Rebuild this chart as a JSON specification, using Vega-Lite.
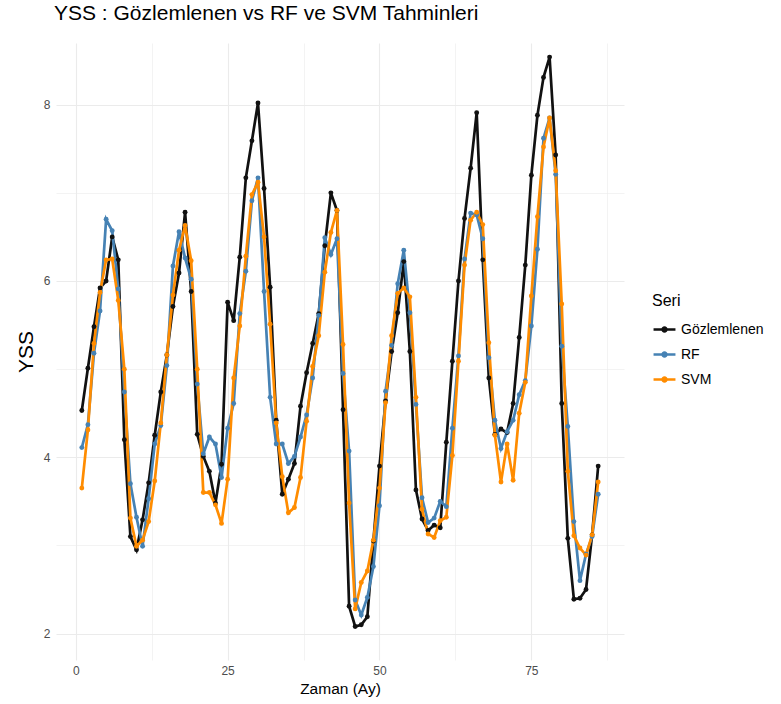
{
 "$schema": "https://vega.github.io/schema/vega-lite/v6.json",
 "width": 568,
 "height": 617,
 "autosize": "none",
 "padding": {"left": 56, "top": 43, "right": 157, "bottom": 44},
 "background": "white",
 "config": {"view": {"stroke": null}, "font": "Liberation Sans"},
 "title": {"text": "YSS : Gözlemlenen vs RF ve SVM Tahminleri", "anchor": "start", "frame": "group", "fontSize": 21, "fontWeight": "normal", "font": "Liberation Sans", "color": "black", "offset": 19, "dx": -2},
 "datasets": {
  "d": [
   {"ay":1,"seri":"Gözlemlenen","yss":4.53},{"ay":2,"seri":"Gözlemlenen","yss":5.01},{"ay":3,"seri":"Gözlemlenen","yss":5.48},{"ay":4,"seri":"Gözlemlenen","yss":5.92},{"ay":5,"seri":"Gözlemlenen","yss":6.0},{"ay":6,"seri":"Gözlemlenen","yss":6.5},{"ay":7,"seri":"Gözlemlenen","yss":6.24},{"ay":8,"seri":"Gözlemlenen","yss":4.2},{"ay":9,"seri":"Gözlemlenen","yss":3.1},{"ay":10,"seri":"Gözlemlenen","yss":2.95},
   {"ay":11,"seri":"Gözlemlenen","yss":3.29},{"ay":12,"seri":"Gözlemlenen","yss":3.71},{"ay":13,"seri":"Gözlemlenen","yss":4.25},{"ay":14,"seri":"Gözlemlenen","yss":4.74},{"ay":15,"seri":"Gözlemlenen","yss":5.16},{"ay":16,"seri":"Gözlemlenen","yss":5.71},{"ay":17,"seri":"Gözlemlenen","yss":6.09},{"ay":18,"seri":"Gözlemlenen","yss":6.78},{"ay":19,"seri":"Gözlemlenen","yss":5.88},{"ay":20,"seri":"Gözlemlenen","yss":4.26},
   {"ay":21,"seri":"Gözlemlenen","yss":4.01},{"ay":22,"seri":"Gözlemlenen","yss":3.84},{"ay":23,"seri":"Gözlemlenen","yss":3.48},{"ay":24,"seri":"Gözlemlenen","yss":3.92},{"ay":25,"seri":"Gözlemlenen","yss":5.76},{"ay":26,"seri":"Gözlemlenen","yss":5.55},{"ay":27,"seri":"Gözlemlenen","yss":6.27},{"ay":28,"seri":"Gözlemlenen","yss":7.17},{"ay":29,"seri":"Gözlemlenen","yss":7.59},{"ay":30,"seri":"Gözlemlenen","yss":8.02},
   {"ay":31,"seri":"Gözlemlenen","yss":7.05},{"ay":32,"seri":"Gözlemlenen","yss":5.93},{"ay":33,"seri":"Gözlemlenen","yss":4.42},{"ay":34,"seri":"Gözlemlenen","yss":3.58},{"ay":35,"seri":"Gözlemlenen","yss":3.75},{"ay":36,"seri":"Gözlemlenen","yss":3.93},{"ay":37,"seri":"Gözlemlenen","yss":4.58},{"ay":38,"seri":"Gözlemlenen","yss":4.96},{"ay":39,"seri":"Gözlemlenen","yss":5.29},{"ay":40,"seri":"Gözlemlenen","yss":5.63},
   {"ay":41,"seri":"Gözlemlenen","yss":6.4},{"ay":42,"seri":"Gözlemlenen","yss":7.0},{"ay":43,"seri":"Gözlemlenen","yss":6.8},{"ay":44,"seri":"Gözlemlenen","yss":4.54},{"ay":45,"seri":"Gözlemlenen","yss":2.31},{"ay":46,"seri":"Gözlemlenen","yss":2.08},{"ay":47,"seri":"Gözlemlenen","yss":2.1},{"ay":48,"seri":"Gözlemlenen","yss":2.19},{"ay":49,"seri":"Gözlemlenen","yss":3.05},{"ay":50,"seri":"Gözlemlenen","yss":3.9},
   {"ay":51,"seri":"Gözlemlenen","yss":4.64},{"ay":52,"seri":"Gözlemlenen","yss":5.2},{"ay":53,"seri":"Gözlemlenen","yss":5.64},{"ay":54,"seri":"Gözlemlenen","yss":6.22},{"ay":55,"seri":"Gözlemlenen","yss":5.2},{"ay":56,"seri":"Gözlemlenen","yss":3.63},{"ay":57,"seri":"Gözlemlenen","yss":3.3},{"ay":58,"seri":"Gözlemlenen","yss":3.17},{"ay":59,"seri":"Gözlemlenen","yss":3.23},{"ay":60,"seri":"Gözlemlenen","yss":3.2},
   {"ay":61,"seri":"Gözlemlenen","yss":4.17},{"ay":62,"seri":"Gözlemlenen","yss":5.09},{"ay":63,"seri":"Gözlemlenen","yss":6.0},{"ay":64,"seri":"Gözlemlenen","yss":6.71},{"ay":65,"seri":"Gözlemlenen","yss":7.28},{"ay":66,"seri":"Gözlemlenen","yss":7.91},{"ay":67,"seri":"Gözlemlenen","yss":6.24},{"ay":68,"seri":"Gözlemlenen","yss":4.9},{"ay":69,"seri":"Gözlemlenen","yss":4.26},{"ay":70,"seri":"Gözlemlenen","yss":4.32},
   {"ay":71,"seri":"Gözlemlenen","yss":4.28},{"ay":72,"seri":"Gözlemlenen","yss":4.61},{"ay":73,"seri":"Gözlemlenen","yss":5.36},{"ay":74,"seri":"Gözlemlenen","yss":6.18},{"ay":75,"seri":"Gözlemlenen","yss":7.2},{"ay":76,"seri":"Gözlemlenen","yss":7.88},{"ay":77,"seri":"Gözlemlenen","yss":8.31},{"ay":78,"seri":"Gözlemlenen","yss":8.54},{"ay":79,"seri":"Gözlemlenen","yss":7.43},{"ay":80,"seri":"Gözlemlenen","yss":4.61},
   {"ay":81,"seri":"Gözlemlenen","yss":3.08},{"ay":82,"seri":"Gözlemlenen","yss":2.39},{"ay":83,"seri":"Gözlemlenen","yss":2.4},{"ay":84,"seri":"Gözlemlenen","yss":2.5},{"ay":85,"seri":"Gözlemlenen","yss":3.12},{"ay":86,"seri":"Gözlemlenen","yss":3.9},
   {"ay":1,"seri":"RF","yss":4.11},{"ay":2,"seri":"RF","yss":4.37},{"ay":3,"seri":"RF","yss":5.18},{"ay":4,"seri":"RF","yss":5.66},{"ay":5,"seri":"RF","yss":6.7},{"ay":6,"seri":"RF","yss":6.57},{"ay":7,"seri":"RF","yss":5.91},{"ay":8,"seri":"RF","yss":4.74},{"ay":9,"seri":"RF","yss":3.7},{"ay":10,"seri":"RF","yss":3.32},
   {"ay":11,"seri":"RF","yss":2.99},{"ay":12,"seri":"RF","yss":3.53},{"ay":13,"seri":"RF","yss":4.15},{"ay":14,"seri":"RF","yss":4.36},{"ay":15,"seri":"RF","yss":5.04},{"ay":16,"seri":"RF","yss":6.17},{"ay":17,"seri":"RF","yss":6.56},{"ay":18,"seri":"RF","yss":6.26},{"ay":19,"seri":"RF","yss":6.02},{"ay":20,"seri":"RF","yss":4.83},
   {"ay":21,"seri":"RF","yss":4.04},{"ay":22,"seri":"RF","yss":4.23},{"ay":23,"seri":"RF","yss":4.15},{"ay":24,"seri":"RF","yss":3.77},{"ay":25,"seri":"RF","yss":4.33},{"ay":26,"seri":"RF","yss":4.61},{"ay":27,"seri":"RF","yss":5.63},{"ay":28,"seri":"RF","yss":6.11},{"ay":29,"seri":"RF","yss":6.91},{"ay":30,"seri":"RF","yss":7.17},
   {"ay":31,"seri":"RF","yss":5.88},{"ay":32,"seri":"RF","yss":4.68},{"ay":33,"seri":"RF","yss":4.15},{"ay":34,"seri":"RF","yss":4.15},{"ay":35,"seri":"RF","yss":3.93},{"ay":36,"seri":"RF","yss":4.01},{"ay":37,"seri":"RF","yss":4.23},{"ay":38,"seri":"RF","yss":4.48},{"ay":39,"seri":"RF","yss":4.9},{"ay":40,"seri":"RF","yss":5.61},
   {"ay":41,"seri":"RF","yss":6.49},{"ay":42,"seri":"RF","yss":6.3},{"ay":43,"seri":"RF","yss":6.48},{"ay":44,"seri":"RF","yss":4.95},{"ay":45,"seri":"RF","yss":4.07},{"ay":46,"seri":"RF","yss":2.38},{"ay":47,"seri":"RF","yss":2.21},{"ay":48,"seri":"RF","yss":2.41},{"ay":49,"seri":"RF","yss":2.76},{"ay":50,"seri":"RF","yss":3.45},
   {"ay":51,"seri":"RF","yss":4.75},{"ay":52,"seri":"RF","yss":5.27},{"ay":53,"seri":"RF","yss":5.97},{"ay":54,"seri":"RF","yss":6.35},{"ay":55,"seri":"RF","yss":5.64},{"ay":56,"seri":"RF","yss":4.6},{"ay":57,"seri":"RF","yss":3.54},{"ay":58,"seri":"RF","yss":3.26},{"ay":59,"seri":"RF","yss":3.31},{"ay":60,"seri":"RF","yss":3.5},
   {"ay":61,"seri":"RF","yss":3.44},{"ay":62,"seri":"RF","yss":4.33},{"ay":63,"seri":"RF","yss":5.15},{"ay":64,"seri":"RF","yss":6.25},{"ay":65,"seri":"RF","yss":6.77},{"ay":66,"seri":"RF","yss":6.75},{"ay":67,"seri":"RF","yss":6.48},{"ay":68,"seri":"RF","yss":5.13},{"ay":69,"seri":"RF","yss":4.42},{"ay":70,"seri":"RF","yss":4.1},
   {"ay":71,"seri":"RF","yss":4.29},{"ay":72,"seri":"RF","yss":4.42},{"ay":73,"seri":"RF","yss":4.71},{"ay":74,"seri":"RF","yss":4.87},{"ay":75,"seri":"RF","yss":5.49},{"ay":76,"seri":"RF","yss":6.36},{"ay":77,"seri":"RF","yss":7.62},{"ay":78,"seri":"RF","yss":7.85},{"ay":79,"seri":"RF","yss":7.21},{"ay":80,"seri":"RF","yss":5.26},
   {"ay":81,"seri":"RF","yss":4.35},{"ay":82,"seri":"RF","yss":3.27},{"ay":83,"seri":"RF","yss":2.6},{"ay":84,"seri":"RF","yss":2.9},{"ay":85,"seri":"RF","yss":3.1},{"ay":86,"seri":"RF","yss":3.58},
   {"ay":1,"seri":"SVM","yss":3.65},{"ay":2,"seri":"SVM","yss":4.31},{"ay":3,"seri":"SVM","yss":5.29},{"ay":4,"seri":"SVM","yss":5.87},{"ay":5,"seri":"SVM","yss":6.24},{"ay":6,"seri":"SVM","yss":6.25},{"ay":7,"seri":"SVM","yss":5.78},{"ay":8,"seri":"SVM","yss":5.0},{"ay":9,"seri":"SVM","yss":3.31},{"ay":10,"seri":"SVM","yss":2.99},
   {"ay":11,"seri":"SVM","yss":3.06},{"ay":12,"seri":"SVM","yss":3.27},{"ay":13,"seri":"SVM","yss":3.73},{"ay":14,"seri":"SVM","yss":4.39},{"ay":15,"seri":"SVM","yss":5.16},{"ay":16,"seri":"SVM","yss":5.84},{"ay":17,"seri":"SVM","yss":6.35},{"ay":18,"seri":"SVM","yss":6.63},{"ay":19,"seri":"SVM","yss":6.23},{"ay":20,"seri":"SVM","yss":5.0},
   {"ay":21,"seri":"SVM","yss":3.6},{"ay":22,"seri":"SVM","yss":3.6},{"ay":23,"seri":"SVM","yss":3.46},{"ay":24,"seri":"SVM","yss":3.25},{"ay":25,"seri":"SVM","yss":3.75},{"ay":26,"seri":"SVM","yss":4.9},{"ay":27,"seri":"SVM","yss":5.49},{"ay":28,"seri":"SVM","yss":6.28},{"ay":29,"seri":"SVM","yss":6.98},{"ay":30,"seri":"SVM","yss":7.12},
   {"ay":31,"seri":"SVM","yss":6.5},{"ay":32,"seri":"SVM","yss":5.51},{"ay":33,"seri":"SVM","yss":4.39},{"ay":34,"seri":"SVM","yss":3.78},{"ay":35,"seri":"SVM","yss":3.37},{"ay":36,"seri":"SVM","yss":3.43},{"ay":37,"seri":"SVM","yss":3.77},{"ay":38,"seri":"SVM","yss":4.41},{"ay":39,"seri":"SVM","yss":5.03},{"ay":40,"seri":"SVM","yss":5.38},
   {"ay":41,"seri":"SVM","yss":6.1},{"ay":42,"seri":"SVM","yss":6.55},{"ay":43,"seri":"SVM","yss":6.8},{"ay":44,"seri":"SVM","yss":5.28},{"ay":45,"seri":"SVM","yss":3.48},{"ay":46,"seri":"SVM","yss":2.28},{"ay":47,"seri":"SVM","yss":2.58},{"ay":48,"seri":"SVM","yss":2.71},{"ay":49,"seri":"SVM","yss":3.06},{"ay":50,"seri":"SVM","yss":3.65},
   {"ay":51,"seri":"SVM","yss":4.62},{"ay":52,"seri":"SVM","yss":5.38},{"ay":53,"seri":"SVM","yss":5.86},{"ay":54,"seri":"SVM","yss":5.92},{"ay":55,"seri":"SVM","yss":5.82},{"ay":56,"seri":"SVM","yss":4.68},{"ay":57,"seri":"SVM","yss":3.41},{"ay":58,"seri":"SVM","yss":3.13},{"ay":59,"seri":"SVM","yss":3.09},{"ay":60,"seri":"SVM","yss":3.28},
   {"ay":61,"seri":"SVM","yss":3.32},{"ay":62,"seri":"SVM","yss":4.02},{"ay":63,"seri":"SVM","yss":5.09},{"ay":64,"seri":"SVM","yss":6.18},{"ay":65,"seri":"SVM","yss":6.69},{"ay":66,"seri":"SVM","yss":6.78},{"ay":67,"seri":"SVM","yss":6.64},{"ay":68,"seri":"SVM","yss":5.3},{"ay":69,"seri":"SVM","yss":4.25},{"ay":70,"seri":"SVM","yss":3.72},
   {"ay":71,"seri":"SVM","yss":4.15},{"ay":72,"seri":"SVM","yss":3.74},{"ay":73,"seri":"SVM","yss":4.5},{"ay":74,"seri":"SVM","yss":4.85},{"ay":75,"seri":"SVM","yss":5.83},{"ay":76,"seri":"SVM","yss":6.73},{"ay":77,"seri":"SVM","yss":7.52},{"ay":78,"seri":"SVM","yss":7.85},{"ay":79,"seri":"SVM","yss":7.25},{"ay":80,"seri":"SVM","yss":5.74},
   {"ay":81,"seri":"SVM","yss":3.84},{"ay":82,"seri":"SVM","yss":3.11},{"ay":83,"seri":"SVM","yss":2.97},{"ay":84,"seri":"SVM","yss":2.89},{"ay":85,"seri":"SVM","yss":3.12},{"ay":86,"seri":"SVM","yss":3.72}
  ]
 },
 "data": {"name": "d"},
 "encoding": {
  "x": {
   "field": "ay", "type": "quantitative",
   "scale": {"domain": [-3.25, 90.25], "nice": false, "zero": false},
   "axis": {
    "values": [0, 12.5, 25, 37.5, 50, 62.5, 75, 87.5],
    "format": "d",
    "labelExpr": "datum.value % 25 == 0 ? datum.label : ''",
    "grid": true, "gridColor": "#ebebeb",
    "gridWidth": {"condition": {"test": "datum.value % 25 == 0", "value": 1.1}, "value": 0.6},
    "domain": false, "ticks": false,
    "labelColor": "#4d4d4d", "labelFontSize": 12, "labelPadding": 5,
    "title": "Zaman (Ay)", "titleFontSize": 15.5, "titleFontWeight": "normal", "titleColor": "black", "titlePadding": 5
   }
  },
  "y": {
   "field": "yss", "type": "quantitative",
   "scale": {"domain": [1.7, 8.7], "nice": false, "zero": false},
   "axis": {
    "values": [2, 3, 4, 5, 6, 7, 8],
    "format": "d",
    "labelExpr": "datum.value % 2 == 0 ? datum.label : ''",
    "grid": true, "gridColor": "#ebebeb",
    "gridWidth": {"condition": {"test": "datum.value % 2 == 0", "value": 1.1}, "value": 0.6},
    "domain": false, "ticks": false,
    "labelColor": "#4d4d4d", "labelFontSize": 12, "labelPadding": 6,
    "title": "YSS", "titleFontSize": 21, "titleFontWeight": "normal", "titleColor": "black", "titlePadding": 7
   }
  },
  "color": {
   "field": "seri", "type": "nominal",
   "scale": {"domain": ["Gözlemlenen", "RF", "SVM"], "range": ["#111111", "#4682B4", "#FF8C00"]},
   "legend": {
    "title": "Seri", "orient": "none", "legendX": 596, "legendY": 250,
    "titleFontSize": 16, "titleFontWeight": "normal", "titleColor": "black", "titlePadding": 8,
    "labelFontSize": 14, "labelColor": "black", "labelOffset": 4,
    "symbolType": "M-1,0L1,0M-0.18,0A0.18,0.18,0,1,0,0.18,0A0.18,0.18,0,1,0,-0.18,0",
    "symbolSize": 480, "symbolStrokeWidth": 2.5, "rowPadding": 5
   }
  }
 },
 "layer": [
  {"mark": {"type": "line", "strokeWidth": 2.7}},
  {"mark": {"type": "circle", "size": 24, "opacity": 1}}
 ]
}
